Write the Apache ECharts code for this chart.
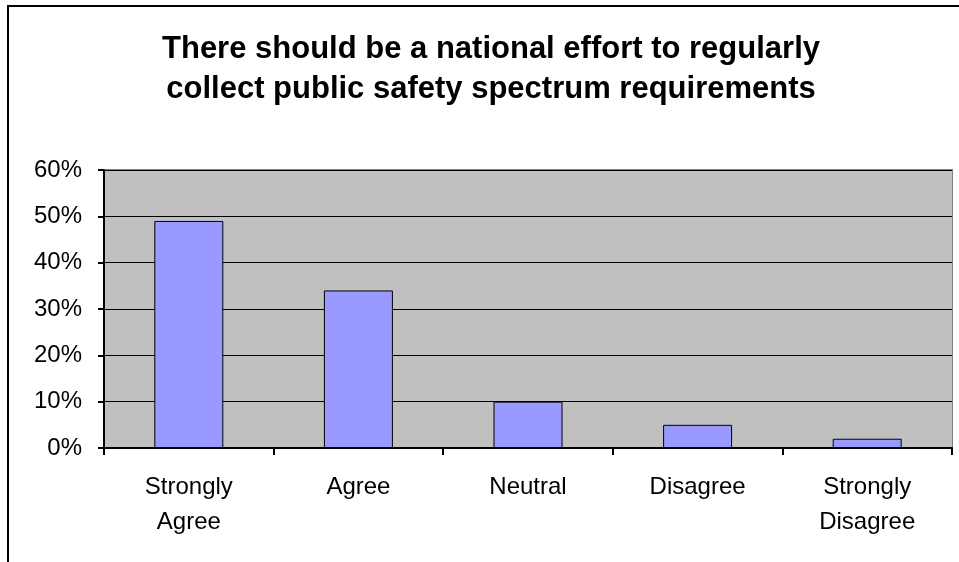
<!DOCTYPE html>
<html>
<head>
<meta charset="utf-8">
<script src="https://cdn.jsdelivr.net/npm/echarts@6/dist/echarts.min.js"></script>
<style>html,body{margin:0;padding:0;background:#fff;}#c{width:959px;height:562px;}</style>
</head>
<body>
<div id="c"></div>
<script>
const categories = ['Strongly\nAgree', 'Agree', 'Neutral', 'Disagree', 'Strongly\nDisagree'];
const values = [49, 34, 10, 5, 2];
const yTicks = [0, 10, 20, 30, 40, 50, 60];
const titleText = 'There should be a national effort to regularly\ncollect public safety spectrum requirements';

const chart = echarts.init(document.getElementById('c'), null, {renderer: 'canvas'});
const FONT = '"Liberation Sans", Arial, sans-serif';
chart.setOption({
  animation: false,
  backgroundColor: '#fff',
  graphic: [
    {type: 'rect', shape: {x: 8, y: 6, width: 1200, height: 1200}, style: {fill: 'none', stroke: '#000', lineWidth: 2}, z: 100},
    {type: 'rect', shape: {x: 104, y: 170, width: 848, height: 278}, style: {fill: 'none', stroke: '#808080', lineWidth: 2}, z: -1}
  ],
  title: {
    text: titleText,
    left: 486, top: 24, textAlign: 'center',
    textStyle: {fontFamily: FONT, fontWeight: 'bold', fontSize: 31, lineHeight: 40, color: '#000'}
  },
  grid: {left: 104, right: 7, top: 170, bottom: 114, show: true, backgroundColor: '#C0C0C0', borderWidth: 0},
  xAxis: {
    type: 'category', data: categories,
    axisLine: {lineStyle: {color: '#000', width: 2}},
    axisTick: {show: true, inside: false, length: 7, lineStyle: {color: '#000', width: 2}, alignWithLabel: false},
    axisLabel: {fontFamily: FONT, fontSize: 24, lineHeight: 35, color: '#000', margin: 22, interval: 0}
  },
  yAxis: {
    type: 'value', min: 0, max: 60, interval: 10,
    axisLine: {show: true, lineStyle: {color: '#000', width: 2}},
    axisTick: {show: true, length: 6, lineStyle: {color: '#000', width: 2}},
    axisLabel: {fontFamily: FONT, fontSize: 24, color: '#000', margin: 22, formatter: v => yTicks.includes(v) ? v + '%' : ''},
    splitLine: {show: true, lineStyle: {color: '#000', width: 1}}
  },
  series: [{
    type: 'bar', data: values, barWidth: 69,
    itemStyle: {color: '#9999FF', borderColor: '#000', borderWidth: 1}
  }]
});
</script>
</body>
</html>
